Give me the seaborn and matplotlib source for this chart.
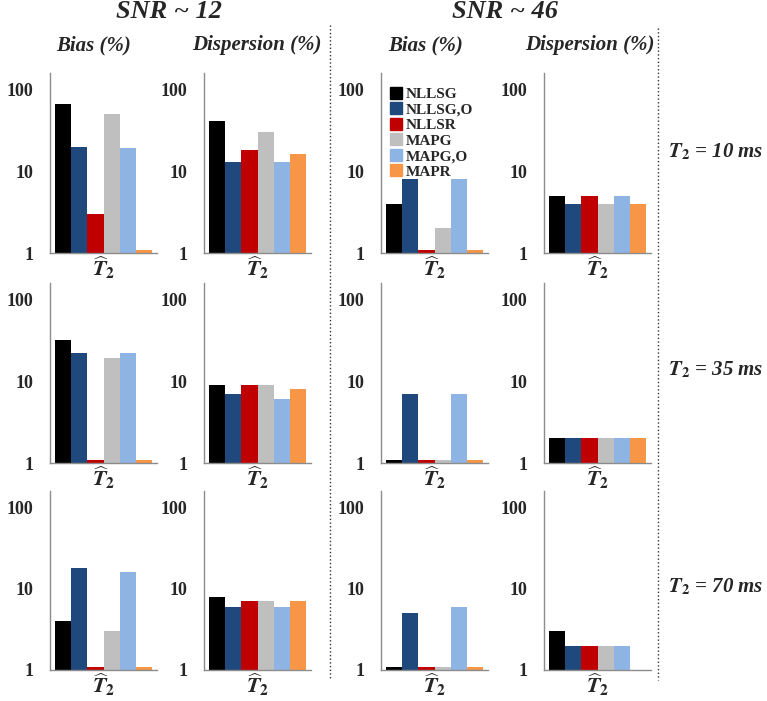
import numpy as np
import pandas as pd
import matplotlib
matplotlib.use('Agg')
import matplotlib.pyplot as plt
from matplotlib.lines import Line2D
from matplotlib.ticker import FixedLocator, FixedFormatter, LogLocator, NullFormatter
import seaborn as sns

methods = ['NLLSG', 'NLLSG,O', 'NLLSR', 'MAPG', 'MAPG,O', 'MAPR']
colors = ['#000000', '#1F497D', '#C00000', '#BFBFBF', '#8DB4E2', '#F79646']

# rows: T2 = 10, 35, 70 ms ; columns: bias/dispersion at SNR~12, bias/dispersion at SNR~46
bias_snr12 = [[67, 20, 3, 50, 19, 1.1],
              [32, 22, 1.1, 19, 22, 1.1],
              [4, 18, 1.1, 3, 16, 1.1]]
disp_snr12 = [[41, 13, 18, 30, 13, 16],
              [9, 7, 9, 9, 6, 8],
              [8, 6, 7, 7, 6, 7]]
bias_snr46 = [[4, 8, 1.1, 2, 8, 1.1],
              [1.1, 7, 1.1, 1.1, 7, 1.1],
              [1.1, 5, 1.1, 1.1, 6, 1.1]]
disp_snr46 = [[5, 4, 5, 4, 5, 4],
              [2, 2, 2, 2, 2, 2],
              [3, 2, 2, 2, 2, 1]]
t2_labels = ['10', '35', '70']

sns.set_style('white')
plt.rcParams['font.family'] = ['Liberation Serif', 'DejaVu Serif']
plt.rcParams['mathtext.fontset'] = 'stix'

W, H = 767, 701
fig = plt.figure(figsize=(W / 100, H / 100), dpi=100)

col_left = [50, 204, 381, 544]
col_w = 107
row_bottom = [253, 463, 670]
row_h = [180, 180, 179]
panels = [bias_snr12, disp_snr12, bias_snr46, disp_snr46]

for r in range(3):
    for c in range(4):
        ax = fig.add_axes([col_left[c] / W, 1 - row_bottom[r] / H, col_w / W, row_h[r] / H])
        df = pd.DataFrame({'method': methods, 'value': panels[c][r]})
        sns.barplot(data=df, x='method', y='value', hue='method', order=methods,
                    hue_order=methods, palette=colors, saturation=1, width=1,
                    linewidth=0, legend=False, ax=ax)
        ax.set_yscale('log')
        ax.set_ylim(1, 10 ** 2.2)
        ax.set_xlim(-0.8, 5.8)
        ax.yaxis.set_major_locator(FixedLocator([1, 10, 100]))
        ax.yaxis.set_major_formatter(FixedFormatter(['1', '10', '100']))
        ax.yaxis.set_minor_locator(LogLocator(base=10, subs=np.arange(2, 10)))
        ax.yaxis.set_minor_formatter(NullFormatter())
        ax.tick_params(axis='y', which='major', direction='in', length=4, width=0.8,
                       color='#8c8c8c', pad=12, labelsize=13)
        ax.tick_params(axis='y', which='minor', direction='in', length=3, width=0.6,
                       color='#8c8c8c')
        for lab in ax.get_yticklabels():
            lab.set_fontweight('bold')
        ax.set_xticks([])
        ax.set_xlabel(r'$\widehat{\mathbfit{T}}_{\mathbf{2}}$', fontsize=16, labelpad=1)
        ax.set_ylabel('')
        for s in ['top', 'right']:
            ax.spines[s].set_visible(False)
        for s in ['left', 'bottom']:
            ax.spines[s].set_color('#8c8c8c')
            ax.spines[s].set_linewidth(1)
        if r == 0 and c == 2:
            handles = [Line2D([], [], marker='s', linestyle='', markersize=8,
                              markerfacecolor=col, markeredgecolor=col) for col in colors]
            ax.legend(handles, methods, loc='upper left', bbox_to_anchor=(0.0, 0.98),
                      frameon=False, handlelength=0.6, handletextpad=0.3,
                      labelspacing=0.12, borderpad=0.2,
                      prop={'family': 'Liberation Serif', 'weight': 'bold', 'size': 11})

title_kw = dict(fontstyle='italic', fontweight='bold', ha='center', va='center')
fig.text(169 / W, 1 - 12 / H, 'SNR ~ 12', fontsize=19, **title_kw)
fig.text(505 / W, 1 - 12 / H, 'SNR ~ 46', fontsize=19, **title_kw)
for x, t in zip([94, 257, 426, 590], ['Bias (%)', 'Dispersion (%)', 'Bias (%)', 'Dispersion (%)']):
    fig.text(x / W, 1 - 45 / H, t, fontsize=15, **title_kw)

for y, t2 in zip([152, 370, 587], t2_labels):
    fig.text(716 / W, 1 - y / H, r'$\mathbfit{T}_{\mathbf{2}}$' + ' = ' + t2 + ' ms',
             fontsize=15, **title_kw)

for x, y0 in [(330, 25), (658, 28)]:
    fig.add_artist(Line2D([x / W, x / W], [1 - y0 / H, 1 - 680 / H], transform=fig.transFigure,
                          linestyle=':', color='#333333', linewidth=1))

fig.savefig('out.png', dpi=100)
